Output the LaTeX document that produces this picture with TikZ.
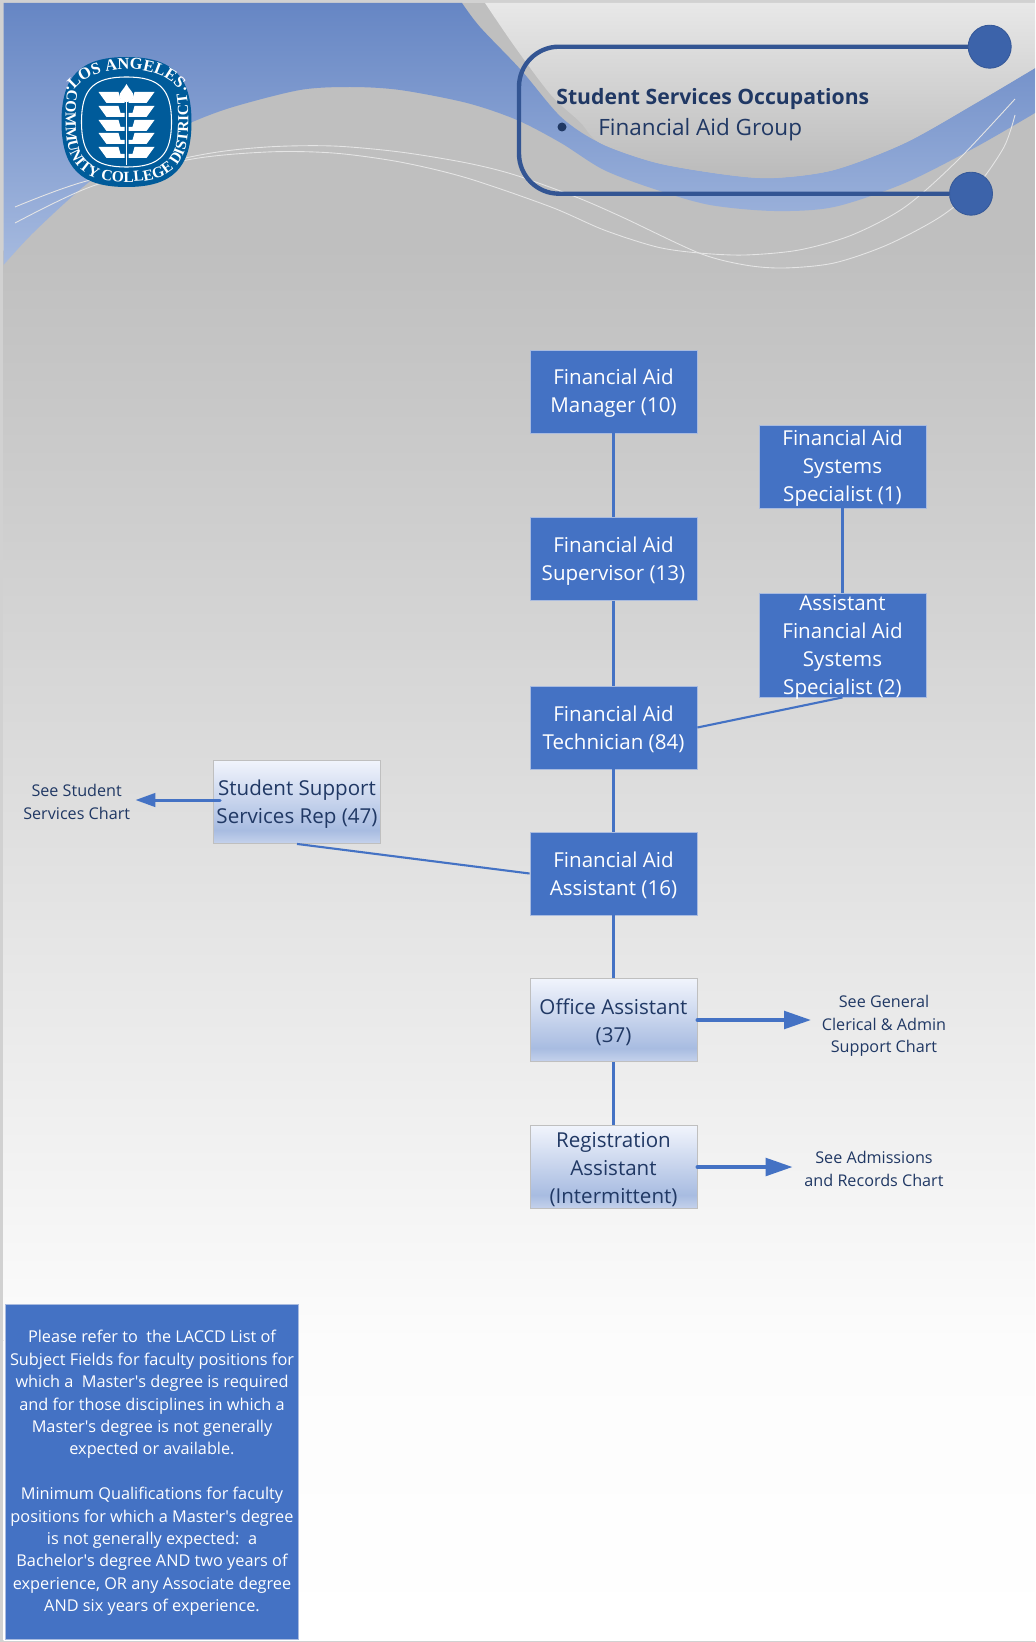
\documentclass[tikz,border=0pt]{standalone}
\usepackage{fontspec}
\setmainfont{Open Sans}
\newfontfamily\logofont[Scale=1]{Liberation Serif}
\usepackage{xcolor}
\usetikzlibrary{arrows.meta}
\usetikzlibrary{decorations.text}
\definecolor{finblue}{HTML}{4472C4}
\definecolor{edgeblue}{HTML}{A9BBDF}
\definecolor{darktext}{HTML}{203864}
\definecolor{framedark}{HTML}{335593}
\definecolor{dotblue}{HTML}{3C63AA}
\definecolor{logoblue}{HTML}{005B9A}
\definecolor{gradtop}{HTML}{F1F4FC}
\definecolor{gradlow}{HTML}{A8BCE1}
\definecolor{gradend}{HTML}{C5D2EC}
\definecolor{bandtop}{HTML}{6686C4}
\definecolor{bandlow}{HTML}{A6BADF}
\pgfdeclareverticalshading{gradbox}{100bp}{color(0bp)=(gradend); color(25bp)=(gradend); color(33bp)=(gradlow); color(75bp)=(gradtop); color(100bp)=(gradtop)}
\def\boxup{\rule{0pt}{11.2pt}}
\def\noteup{\rule{0pt}{8.8pt}}
\tikzset{
	finbox/.style={draw=edgeblue,fill=finblue,text=white,line width=0.5pt,align=center,inner sep=0pt,
		minimum width=3.34cm,minimum height=1.66cm,font=\fontsize{11.7}{15.93}\selectfont},
	gradnode/.style={finbox,draw=lightgray,shading=gradbox,text=darktext},
	seelabel/.style={text=darktext,align=center,inner sep=0pt,font=\fontsize{9.2}{12.8}\selectfont},
	orgline/.style={finblue,line width=1.2pt},
	bigarrow/.style={finblue,line width=2.2pt,line cap=round,-{Triangle[length=0.54cm,width=0.35cm]}},
	endcircle/.style={circle,draw=dotblue!90!black,fill=dotblue,line width=0.5pt,minimum size=0.86cm,inner sep=0pt},
	swoosh/.style={draw=white!90!black,line width=0.5pt}
}
\begin{document}
\begin{tikzpicture}[x=0.02cm,y=-0.02cm]
	\useasboundingbox (0,0) rectangle (1035,1642);
	\fill[black!18] (0,0) rectangle (1035,1642);
	\fill[black!25] (3.5,3) rectangle (1035,250);
	\shade[top color=black!25,bottom color=black!1.2] (3.5,250) rectangle (1035,1340);
	\shade[top color=black!1.2,bottom color=white] (3.5,1340) rectangle (1035,1640);
	% header
	\shade[top color=bandtop,bottom color=bandlow]
		(3.5,3) -- plot[smooth] coordinates {(462,3) (480,27) (521,70) (561,117) (600,143) (657,163) (728,175) (774,178) (834,170) (905,143) (976,103) (1035,68)}
		-- plot[smooth] coordinates {(1035,113) (976,147) (905,183) (834,207) (774,211) (710,205) (657,190) (604,170) (561,143) (517,120) (467,103) (400,90) (350,87) (300,90) (233,107) (190,123) (133,150) (83,187) (33,233) (3.5,265)} -- cycle;
	\shade[top color=black!9,bottom color=black!27]
		(1035,3) -- plot[smooth] coordinates {(485,3) (515,47) (551,95) (580,122) (600,143) (657,163) (728,175) (774,178) (834,170) (905,143) (976,103) (1035,68)} -- cycle;
	\draw[swoosh] plot[smooth] coordinates {(15,207) (83,182) (200,155) (267,147) (333,146) (400,152) (467,163) (515,175) (576,197) (622,217) (699,253) (745,265) (784,268) (834,263) (887,245) (940,217) (976,187) (1004,147) (1015,115)};
	\draw[swoosh] plot[smooth] coordinates {(15,223) (90,187) (187,160) (267,152) (333,153) (400,162) (467,178) (551,207) (604,230) (657,247) (699,253) (745,255) (799,250) (852,235) (905,207) (958,160) (1015,99)};
	% logo
	\begin{scope}[shift={(126.5,122)}]
		\fill[logoblue] (0,-65) .. controls (46,-65) and (65,-46) .. (65,0) .. controls (65,46) and (46,65) .. (0,65) .. controls (-46,65) and (-65,46) .. (-65,0) .. controls (-65,-46) and (-46,-65) .. (0,-65);
		\draw[white,line width=0.6pt] (0,-45) .. controls (33,-45) and (45,-33) .. (45,0) .. controls (45,33) and (33,45) .. (0,45) .. controls (-33,45) and (-45,33) .. (-45,0) .. controls (-45,-33) and (-33,-45) .. (0,-45);
		\fill[white] (-0.9,-30) rectangle (0.9,43);
		\fill[white] (0,-38) .. controls (3,-32) and (7,-30) .. (7,-26) .. controls (7,-22) and (3,-20) .. (0,-20) .. controls (-3,-20) and (-7,-22) .. (-7,-26) .. controls (-7,-30) and (-3,-32) .. (0,-38);
		\foreach \rowy in {-30,-16,-2,11,25}{
			\foreach \side in {-1,1}{
				\fill[white] ({\side*28},\rowy) -- ({\side*8},\rowy) -- ({\side*6},{\rowy+7}) -- ({\side*2},{\rowy+7}) -- ({\side*2},{\rowy+11}) -- ({\side*20},{\rowy+11}) -- cycle;
			}
		}
		\path[decorate,decoration={text along path,text align=center,text={|\fontsize{9.4}{10}\logofont\bfseries\color{white}|·LOS ANGELES·}}]
			(-56,-26) .. controls (-42,-62) and (42,-62) .. (56,-26);
		\path[decorate,decoration={text along path,text align=center,text={|\fontsize{8.8}{10}\logofont\bfseries\color{white}|COMMUNITY COLLEGE DISTRICT}}]
			(-58,-36) .. controls (-62,-20) and (-62,15) .. (-57,30) .. controls (-50,52) and (-30,60) .. (0,60) .. controls (30,60) and (50,52) .. (58,30) .. controls (63,15) and (63,-20) .. (59,-32);
	\end{scope}
	% title frame
	\node[endcircle] (topdot) at (989.7,46.7) {};
	\node[endcircle] (lowdot) at (971,193.7) {};
	\draw[framedark,line width=2.5pt,rounded corners=0.8cm] (topdot.west) -- (519,46.7) -- (519,193.7) -- (lowdot.west);
	\node[anchor=west,inner sep=0pt,text=darktext,font=\fontsize{12.05}{15}\selectfont\bfseries] (titletext) at (556,99) {Student Services Occupations};
	\node[circle,fill=darktext,inner sep=0pt,minimum size=0.18cm] (titlebullet) at (562,127) {};
	\node[anchor=west,inner sep=0pt,text=darktext,font=\fontsize{12.8}{15}\selectfont] (grouptext) at (598,130) {Financial Aid Group};
	% boxes
	\node[finbox] (manager) at (613.5,391.5) {\boxup Financial Aid\\Manager (10)};
	\node[finbox] (supervisor) at (613.5,559) {\boxup Financial Aid\\Supervisor (13)};
	\node[finbox] (technician) at (613.5,727.5) {\boxup Financial Aid\\Technician (84)};
	\node[finbox] (finassistant) at (613.5,873.5) {\boxup Financial Aid\\Assistant (16)};
	\node[gradnode] (office) at (613.5,1020) {\boxup Office Assistant\\(37)};
	\node[gradnode] (registration) at (613.5,1167) {\boxup Registration\\Assistant\\(Intermittent)};
	\node[finbox] (specialist) at (842.5,466.5) {\boxup Financial Aid\\Systems\\Specialist (1)};
	\node[finbox,minimum height=2.08cm,text depth=0pt] (asstspecialist) at (842.5,645) {Assistant\\Financial Aid\\Systems\\Specialist (2)};
	\node[gradnode] (studentrep) at (297,802) {\boxup Student Support\\Services Rep (47)};
	\node[seelabel] (seestudent) at (76.7,801.7) {See Student\\Services Chart};
	\node[seelabel] (seegeneral) at (884,1026) {See General\\Clerical \& Admin\\Support Chart};
	\node[seelabel] (seeadmissions) at (874,1168.7) {See Admissions\\and Records Chart};
	\node[draw=edgeblue,fill=finblue,text=white,align=center,inner sep=0pt,minimum width=5.87cm,minimum height=6.7cm,font=\fontsize{9.27}{12.75}\selectfont] (notebox) at (152,1471.5) {\noteup Please refer to\ \ the LACCD List of\\Subject Fields for faculty positions for\\which a\ \ Master\textquotesingle s degree is required\\and for those disciplines in which a\\Master\textquotesingle s degree is not generally\\expected or available.\\~\\Minimum Qualifications for faculty\\positions for which a Master\textquotesingle s degree\\is not generally expected:\ \ a\\Bachelor\textquotesingle s degree AND two years of\\experience, OR any Associate degree\\AND six years of experience.};
	% connectors
	\draw[orgline] (manager.south) -- (supervisor.north);
	\draw[orgline] (supervisor.south) -- (technician.north);
	\draw[orgline] (technician.south) -- (finassistant.north);
	\draw[orgline] (finassistant.south) -- (office.north);
	\draw[orgline] (office.south) -- (registration.north);
	\draw[orgline] (specialist.south) -- (asstspecialist.north);
	\draw[orgline] (technician.east) -- (asstspecialist.south);
	\draw[orgline] (studentrep.south) -- (finassistant.west);
	\coordinate (repout) at ([shift={(7,-2)}]studentrep.west);
	\draw[bigarrow,line width=1.7pt,-{Triangle[length=0.4cm,width=0.27cm]},shorten >=0.1cm] (repout) -- (repout -| seestudent.east);
	\draw[bigarrow,shorten >=0.21cm] (office.east) -- (office.east -| seegeneral.west);
	\draw[bigarrow,shorten >=0.23cm] (registration.east) -- (registration.east -| seeadmissions.west);
\end{tikzpicture}
\end{document}
